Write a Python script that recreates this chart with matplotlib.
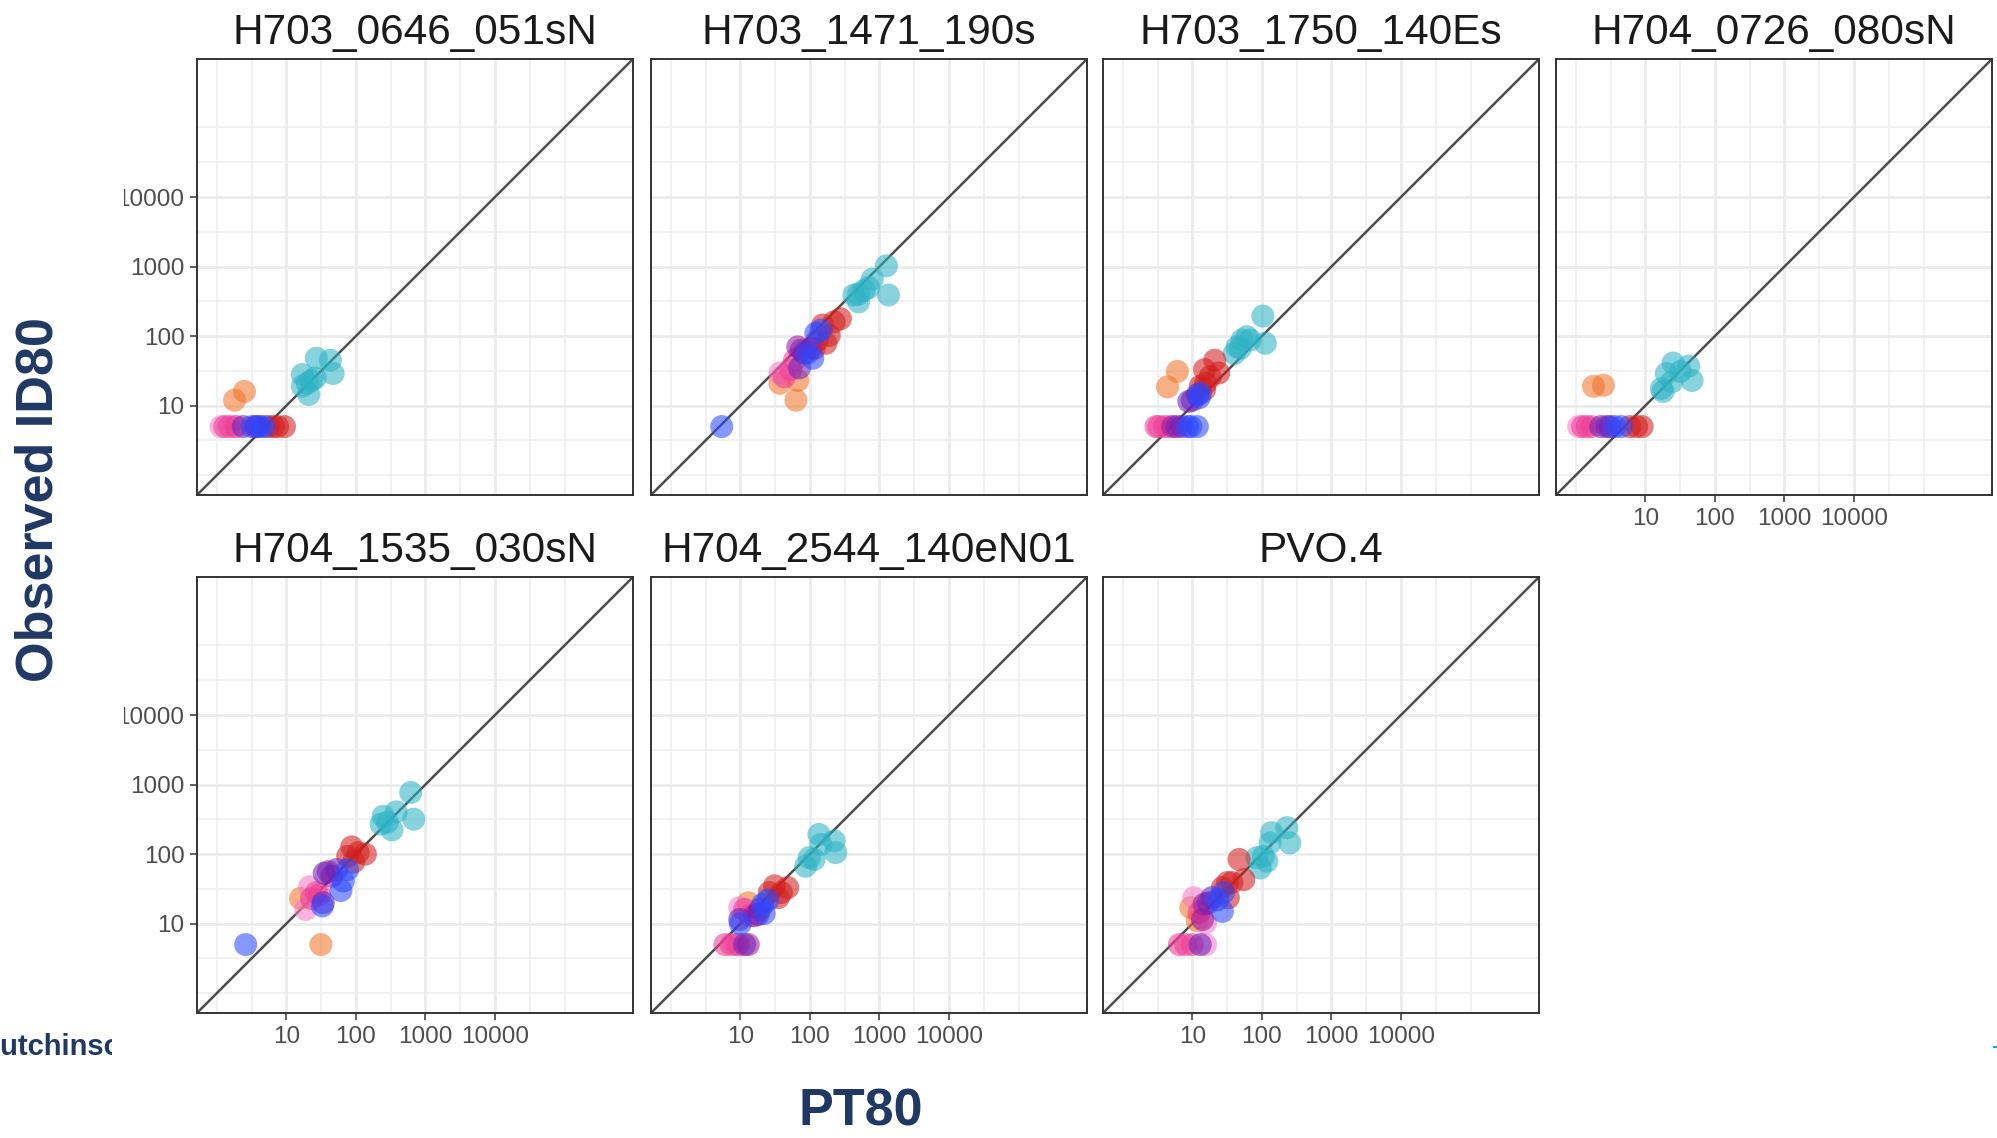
import matplotlib
matplotlib.use('Agg')
import matplotlib.pyplot as plt
from matplotlib.ticker import FixedLocator, NullFormatter, FixedFormatter
from matplotlib.transforms import Bbox
from matplotlib.patches import Rectangle
from matplotlib import font_manager

# ---------------- data ----------------
titles = ["H703_0646_051sN", "H703_1471_190s", "H703_1750_140Es", "H704_0726_080sN",
          "H704_1535_030sN", "H704_2544_140eN01", "PVO.4"]

tick_vals = [10, 100, 1000, 10000]
tick_labels = ["10", "100", "1000", "10000"]
minor_vals = [1, 10**0.5, 10**1.5, 10**2.5, 10**3.5, 10**4.5, 1e5]

group_colors = {
    "teal": "#2DB3C5", "red": "#D21E1E", "orange": "#F2732A", "pink": "#EE3D96",
    "lpink": "#F57AC6", "purple": "#6A22B8", "blue": "#2A48FF", "mag": "#A0159A",
}

# Panel 1: H703_0646_051sN
p1_x = [27, 43, 47, 17, 23, 17, 21, 20, 26,            # teal
        1.8, 2.5,                                       # orange
        1.15, 1.3, 1.5, 1.8, 1.9, 2.4, 3.6, 3.2, 4.2, 4.8, 3.8, 5.5, 6.5, 7.5, 9.4]
p1_y = [48, 45, 29, 28, 23, 19, 14.5, 21, 25,
        12, 16,
        5, 5, 5, 5, 5, 5, 5, 5, 5, 5, 5, 5, 5, 5, 5]
p1_g = ["teal"] * 9 + ["orange"] * 2 + ["lpink", "pink", "pink", "lpink", "pink", "purple", "purple",
                                        "blue", "blue", "blue", "mag", "red", "red", "red", "red"]

# Panel 2: H703_1471_190s
p2_x = [1260, 1350, 790, 700, 500, 500, 600, 430,
        275, 223, 190, 170, 152, 128, 115,
        145, 122, 110, 93, 5.4,
        71, 75,
        103, 67, 83,
        43, 53, 60,
        37,
        37, 67, 63]
p2_y = [1025, 390, 660, 500, 400, 310, 455, 390,
        178, 160, 102, 79, 144, 87, 66,
        122, 110, 48, 57, 5,
        35, 63,
        67, 70, 57,
        26, 33, 45,
        29.5,
        21, 23, 12]
p2_g = ["teal"] * 8 + ["red"] * 7 + ["blue"] * 5 + ["purple"] * 2 + ["mag"] * 3 + ["pink"] * 3 + \
       ["lpink"] + ["orange"] * 3

# Panel 3: H703_1750_140Es
p3_x = [103, 112, 61, 52, 44, 40, 68, 49,
        21, 15, 24, 18, 15.5, 15, 13,
        6.1, 4.4,
        8.9, 11.8, 10,
        13, 12.5,
        3.0, 3.3, 4.0, 4.6, 6.0, 5.2, 7.0, 8.5, 9.5, 11.8]
p3_y = [194, 79, 98, 88, 70, 56, 88, 67,
        45, 33, 29.5, 26, 21, 17, 19,
        31, 18.6,
        11.5, 14.4, 12,
        15, 13,
        5, 5, 5, 5, 5, 5, 5, 5, 5, 5]
p3_g = ["teal"] * 8 + ["red"] * 7 + ["orange"] * 2 + ["purple"] * 3 + ["blue"] * 2 + \
       ["pink", "pink", "pink", "lpink", "purple", "mag", "mag", "blue", "blue", "blue"]

# Panel 4: H704_0726_080sN
p4_x = [25, 42, 47, 20, 17, 18, 24, 32,
        1.8, 2.5,
        1.1, 1.25, 1.45, 1.7, 2.3, 3.1, 2.8, 3.6, 4.5, 6.0, 7.5, 9.0]
p4_y = [41, 37, 23, 29, 17.6, 16, 22, 31,
        19, 19.6,
        5, 5, 5, 5, 5, 5, 5, 5, 5, 5, 5, 5]
p4_g = ["teal"] * 8 + ["orange"] * 2 + \
       ["lpink", "pink", "pink", "pink", "purple", "purple", "mag", "blue", "blue", "red", "red", "red"]

# Panel 5: H704_1535_030sN
p5_x = [615, 680, 380, 247, 330, 230, 283,
        87, 137, 108, 76, 93,
        76, 61, 66, 33, 2.6,
        53, 35, 34,
        40, 45,
        27, 23, 30,
        19, 21.6,
        16, 31.4]
p5_y = [770, 318, 405, 350, 223, 270, 288,
        127, 100, 105, 93, 77,
        60, 30, 41, 18, 5,
        60, 53, 20,
        56, 48,
        28, 23, 26,
        16, 34,
        23, 5]
p5_g = ["teal"] * 7 + ["red"] * 5 + ["blue"] * 5 + ["purple"] * 3 + ["mag"] * 2 + ["pink"] * 3 + \
       ["lpink"] * 2 + ["orange"] * 2

# Panel 6: H704_2544_140eN01
p6_x = [135, 223, 235, 87, 115, 98, 144,
        48, 31, 35, 26, 39,
        25, 21, 10, 22,
        13,
        9.8, 18,
        16, 19,
        11.5, 13.6,
        9.8,
        6.0, 7.4, 9.3, 8.5, 11.5, 13]
p6_y = [192, 155, 105, 67, 84, 89, 138,
        33, 35, 23.6, 28, 28,
        22, 19, 10, 14,
        20,
        11.5, 13.6,
        13, 16,
        16, 13,
        17,
        5, 5, 5, 5, 5, 5]
p6_g = ["teal"] * 7 + ["red"] * 5 + ["blue"] * 4 + ["orange"] + ["purple"] * 2 + ["mag"] * 2 + \
       ["pink"] * 2 + ["lpink"] + ["pink", "pink", "pink", "lpink", "purple", "mag"]

# Panel 7: PVO.4
p7_x = [228, 252, 138, 131, 105, 95, 85, 118,
        47, 55, 32, 37, 27, 33,
        28, 27, 23,
        19, 17, 13,
        9.5, 11.8,
        14.7, 14,
        12.5, 6.5, 8, 10,
        10.5, 15.5, 15.5]
p7_y = [240, 145, 204, 145, 93, 63, 89, 79,
        84, 43, 39, 39, 33, 23.6,
        28, 15, 22,
        23.6, 20, 5,
        17, 11,
        19, 11.5,
        14.4, 5, 5, 5,
        23.6, 10.3, 5]
p7_g = ["teal"] * 8 + ["red"] * 6 + ["blue"] * 3 + ["purple"] * 3 + ["orange"] * 2 + ["mag"] * 2 + \
       ["pink"] * 4 + ["lpink"] * 3

panels = [(p1_x, p1_y, p1_g), (p2_x, p2_y, p2_g), (p3_x, p3_y, p3_g), (p4_x, p4_y, p4_g),
          (p5_x, p5_y, p5_g), (p6_x, p6_y, p6_g), (p7_x, p7_y, p7_g)]

# ---------------- fonts ----------------
names = {f.name for f in font_manager.fontManager.ttflist}
base_font = "Liberation Sans" if "Liberation Sans" in names else "DejaVu Sans"
plt.rcParams['font.family'] = [base_font, 'DejaVu Sans']

# ---------------- layout ----------------
W, H = 1997, 1138
fig = plt.figure(figsize=(W / 100, H / 100), dpi=100)
fig.patch.set_facecolor('white')

size = 436
lefts = [197, 651, 1103, 1556]
tops = [59, 577]
positions = [(lefts[0], tops[0]), (lefts[1], tops[0]), (lefts[2], tops[0]), (lefts[3], tops[0]),
             (lefts[0], tops[1]), (lefts[1], tops[1]), (lefts[2], tops[1])]

lo, hi = 10 ** -0.285, 10 ** 5.985
order = ["teal", "orange", "red", "lpink", "pink", "mag", "purple", "blue"]

for i, ((px, py), (xs, ys, gs), title) in enumerate(zip(positions, panels, titles)):
    ax = fig.add_axes([px / W, 1 - (py + size) / H, size / W, size / H])
    ax.set_xscale('log')
    ax.set_yscale('log')
    ax.set_xlim(lo, hi)
    ax.set_ylim(lo, hi)
    for axis in (ax.xaxis, ax.yaxis):
        axis.set_major_locator(FixedLocator(tick_vals))
        axis.set_major_formatter(FixedFormatter(tick_labels))
        axis.set_minor_locator(FixedLocator(minor_vals))
        axis.set_minor_formatter(NullFormatter())
    ax.grid(True, which='major', color='#EBEBEB', lw=2.0, zorder=0)
    ax.grid(True, which='minor', color='#EFEFEF', lw=1.2, zorder=0)
    ax.set_axisbelow(True)
    for s in ax.spines.values():
        s.set_color('#333333')
        s.set_linewidth(1.4)
    ax.plot([lo, hi], [lo, hi], color='#4D4D4D', lw=1.8, zorder=2)
    for grp in order:
        gx = [x for x, g in zip(xs, gs) if g == grp]
        gy = [y for y, g in zip(ys, gs) if g == grp]
        if gx:
            ax.scatter(gx, gy, s=275, color=group_colors[grp], alpha=0.57,
                       edgecolors='none', zorder=3)
    ax.set_title(title, fontsize=30.5, color='#1A1A1A', pad=11)

    show_x = i >= 3
    show_y = i in (0, 4)
    ax.tick_params(which='minor', length=0)
    ax.tick_params(axis='x', which='major', direction='out', length=5, width=1.1,
                   color='#333333', labelsize=17.5, labelcolor='#4D4D4D', pad=4.5,
                   bottom=show_x, labelbottom=show_x)
    ax.tick_params(axis='y', which='major', direction='out', length=5, width=1.1,
                   color='#333333', labelsize=17.5, labelcolor='#4D4D4D', pad=4,
                   left=show_y, labelleft=show_y)

# the plot image on the slide starts at ~x=124 px: mask anything of the plot left of it
fig.add_artist(Rectangle((64 / W, 1 - 1015 / H), (124 - 64) / W, (1015 - 60) / H,
                         transform=fig.transFigure, facecolor='white', edgecolor='none',
                         zorder=10))

navy = '#1F3864'
fig.text(39.5 / W, 1 - 500 / H, "Observed ID80", rotation=90, ha='center', va='center',
         fontsize=37.5, fontweight='bold', color=navy, zorder=11)
fig.text(861 / W, 1 - 1112 / H, "PT80", ha='center', va='center',
         fontsize=37.5, fontweight='bold', color=navy, zorder=11)
ht = fig.text(-21 / W, 1 - 1047 / H, "Hutchinson", ha='left', va='center',
              fontsize=21, fontweight='bold', color=navy, zorder=11)
ht.set_clip_box(Bbox.from_extents(0, 0, 112, H))
ht.set_clip_on(True)
fig.add_artist(Rectangle((1993 / W, 1 - 1048 / H), 4 / W, 2.5 / H, transform=fig.transFigure,
                         color='#00B0D8', lw=0))

fig.savefig('out.png', dpi=100)
